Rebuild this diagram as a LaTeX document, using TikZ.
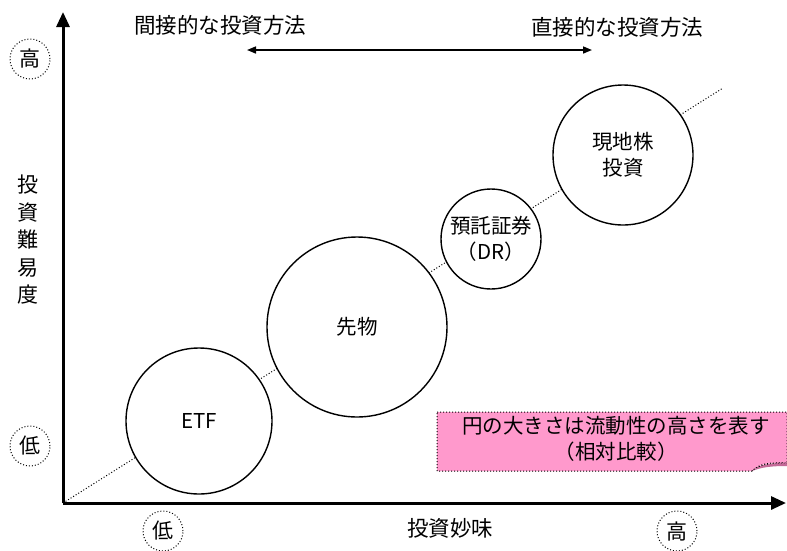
\documentclass[tikz,border=0pt]{standalone}
\usepackage{fontspec}
\setmainfont{Noto Sans CJK JP}
\usetikzlibrary{arrows.meta}
\definecolor{notepink}{HTML}{FF99CC}
\definecolor{folddark}{HTML}{C46A98}
\tikzset{
  lbl/.style={font=\fontsize{21.5}{25}\selectfont, inner sep=0pt},
  bubble/.style={draw, line width=1.4pt, circle, inner sep=0pt, font=\fontsize{20.5}{26}\selectfont, align=center},
  levelmark/.style={draw, dotted, line width=1pt, circle, minimum size=40pt, inner sep=0pt, font=\fontsize{21}{23}\selectfont},
  axis/.style={line width=3pt, -{Triangle[width=13pt,length=15pt]}},
}
\begin{document}
\begin{tikzpicture}[x=1pt,y=-1pt]
\useasboundingbox (0,0) rectangle (787,550);
\coordinate (O) at (63,503);
\coordinate (ytop) at (63,12);
\coordinate (xend) at (786,503);
\coordinate (dend) at (723,88);
% diagonal
\draw[dotted, line width=1pt] (O) -- (dend);
% circles
\node[bubble, fill=white, minimum size=146pt] (etf) at (199,421) {ETF};
\node[bubble, fill=white, minimum size=180pt] (fut) at (357,327) {先物};
\node[bubble, fill=white, minimum size=100pt] (dr) at (491,239) {預託証券\\（DR）};
\node[bubble, fill=white, minimum size=140pt] (loc) at (623,155) {現地株\\投資};
% axes
\draw[axis] (O) -- (ytop);
\draw[axis] (O) -- (xend);
% top labels
\node[lbl] (indirect) at (220,25) {間接的な投資方法};
\node[lbl] (direct) at (617,27) {直接的な投資方法};
\coordinate (al) at (247,50);
\coordinate (ar) at (592,50);
\draw[line width=1.6pt, {Triangle[width=7pt,length=9pt]}-{Triangle[width=7pt,length=9pt]}] (al) -- (ar);
% axis labels
\node[lbl, align=center, font=\fontsize{21}{27.5}\selectfont] (ylab) at (28,240) {投\\資\\難\\易\\度};
\node[lbl] (xlab) at (450,528) {投資妙味};
% level marks
\node[levelmark] (yhigh) at (30,59) {高};
\node[levelmark] (ylow) at (30,446) {低};
\node[levelmark] (xlow) at (163,531) {低};
\node[levelmark] (xhigh) at (677,531) {高};
% note box
\draw[dotted, line width=1pt, fill=notepink] (437,412) -- (787,412) -- (787,463) .. controls (770,463) and (762,462) .. (752,471) -- (437,471) -- cycle;
\fill[folddark] (752,471) .. controls (760,464) and (770,463) .. (787,463) -- (787,466) .. controls (772,466) and (762,467) .. (752,471) -- cycle;
\draw[dotted, line width=0.8pt] (752,471) .. controls (760,464) and (770,463) .. (787,463);
\node[lbl, align=center, font=\fontsize{20.5}{26}\selectfont] (note) at (616,439) {円の大きさは流動性の高さを表す\\（相対比較）};
\end{tikzpicture}
\end{document}
